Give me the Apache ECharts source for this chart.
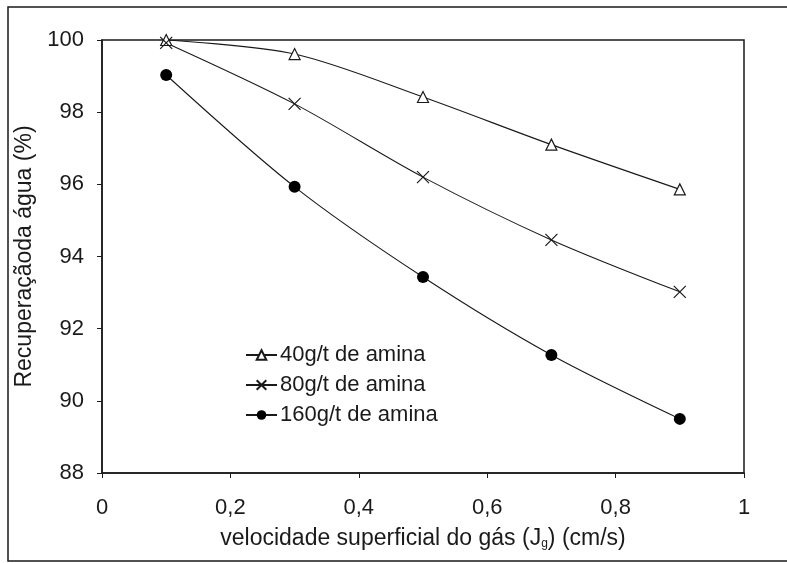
<!DOCTYPE html>
<html><head><meta charset="utf-8">
<script src="https://cdn.jsdelivr.net/npm/echarts@6/dist/echarts.min.js"></script>
<style>html,body{margin:0;padding:0;background:#fff}#c{width:787px;height:563px}</style>
</head><body><div id="c"></div>
<script>
const xValues = [0.1, 0.3, 0.5, 0.7, 0.9];
const s40 = [100.0, 99.61, 98.42, 97.1, 95.86];
const s80 = [99.92, 98.23, 96.2, 94.46, 93.02];
const s160 = [99.03, 95.93, 93.43, 91.27, 89.5];
const seriesNames = ['40g/t de amina', '80g/t de amina', '160g/t de amina'];
const yTicks = [88, 90, 92, 94, 96, 98, 100];
const xTicks = [0, 0.2, 0.4, 0.6, 0.8, 1];

const FONT = '"Liberation Sans", Arial, sans-serif';
const INK = '#1a1a1a';
const chart = echarts.init(document.getElementById('c'));
const pair = arr => xValues.map((x, i) => [x, arr[i]]);
const base = {
  type: 'line', smooth: 0.3, lineStyle: {color: INK, width: 1.1},
  emphasis: {disabled: true}
};
chart.setOption({
  animation: false,
  backgroundColor: '#fff',
  graphic: [{type: 'rect', shape: {x: 8, y: 7, width: 800, height: 554},
    style: {fill: 'none', stroke: INK, lineWidth: 1.5}, silent: true}],
  grid: {left: 102, right: 43, top: 40, bottom: 90, show: true, borderColor: INK, borderWidth: 1.5},
  legend: {
    orient: 'vertical', left: 240, top: 339, itemGap: 8, itemWidth: 31, itemHeight: 12,
    textStyle: {fontFamily: FONT, fontSize: 22, color: INK, padding: [0, 0, 0, -2]},
    data: seriesNames
  },
  xAxis: {
    type: 'value', min: xTicks[0], max: xTicks[xTicks.length - 1], interval: 0.2,
    axisLine: {lineStyle: {color: INK, width: 1.5}},
    axisTick: {inside: false, length: 5, lineStyle: {color: INK}},
    splitLine: {show: false},
    axisLabel: {fontFamily: FONT, fontSize: 22, color: INK, margin: 24,
      formatter: v => String(Math.round(v * 10) / 10).replace('.', ',')},
    name: '{a|velocidade superficial do gás (J}{s|g}{a|) (cm/s)}',
    nameLocation: 'middle', nameGap: 54,
    nameTextStyle: {rich: {
      a: {fontFamily: FONT, fontSize: 23, color: INK},
      s: {fontFamily: FONT, fontSize: 12, color: INK, verticalAlign: 'bottom', padding: [8, 0, 0, 0]}
    }}
  },
  yAxis: {
    type: 'value', min: yTicks[0], max: yTicks[yTicks.length - 1], interval: 2,
    axisLine: {show: true, lineStyle: {color: INK, width: 1.5}},
    axisTick: {show: true, length: 5, lineStyle: {color: INK}},
    splitLine: {show: false},
    axisLabel: {fontFamily: FONT, fontSize: 22, color: INK, margin: 18},
    name: 'Recuperaçãoda água (%)', nameLocation: 'middle', nameGap: 58,
    nameTextStyle: {fontFamily: FONT, fontSize: 23, color: INK}
  },
  series: [
    Object.assign({}, base, {name: seriesNames[0], data: pair(s40), symbol: 'triangle', symbolSize: 11,
      itemStyle: {color: '#fff', borderColor: INK, borderWidth: 1.2}}),
    Object.assign({}, base, {name: seriesNames[1], data: pair(s80),
      symbol: 'path://M0,0L10,10M10,0L0,10', symbolSize: 12,
      itemStyle: {color: 'rgba(0,0,0,0)', borderColor: INK, borderWidth: 1.2}}),
    Object.assign({}, base, {name: seriesNames[2], data: pair(s160), symbol: 'circle', symbolSize: 12,
      itemStyle: {color: '#000', borderColor: '#000', borderWidth: 0}})
  ]
});
</script></body></html>
